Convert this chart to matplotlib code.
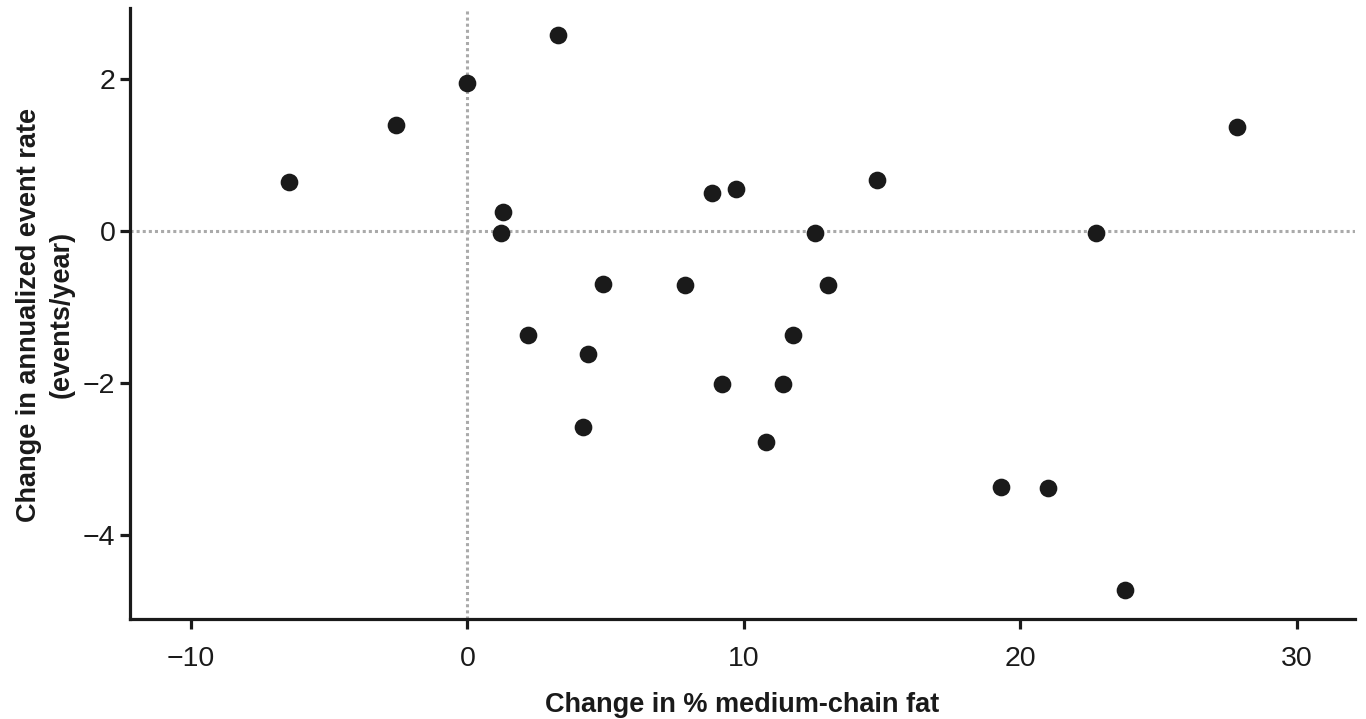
import matplotlib
matplotlib.use("Agg")
import matplotlib.pyplot as plt

# Data
change_mcf = [-6.45, -2.57, 0.0, 3.26, 1.30, 1.23, 2.21, 4.35, 4.20, 4.89,
              7.86, 8.84, 9.71, 9.20, 10.80, 11.41, 11.78, 12.57, 13.04, 14.82,
              19.31, 21.01, 22.75, 23.77, 27.83]
change_rate = [0.64, 1.39, 1.94, 2.57, 0.25, -0.03, -1.37, -1.62, -2.58, -0.70,
               -0.71, 0.50, 0.55, -2.01, -2.78, -2.01, -1.37, -0.03, -0.71, 0.67,
               -3.36, -3.38, -0.03, -4.72, 1.37]
x_ticks = [-10, 0, 10, 20, 30]
y_ticks = [-4, -2, 0, 2]
x_label = "Change in % medium-chain fat"
y_label = "Change in annualized event rate\n(events/year)"

plt.rcParams['font.family'] = ['Liberation Sans', 'DejaVu Sans']

fig = plt.figure(figsize=(13.66, 7.19), dpi=100)
ax = fig.add_axes([130/1366, 1-619/719, (1355-130)/1366, (619-8)/719])

ax.axhline(0, color='#aaaaaa', linestyle=(0, (1, 1)), linewidth=2.2, zorder=1)
ax.axvline(0, color='#aaaaaa', linestyle=(0, (1, 1)), linewidth=2.2, zorder=1)
ax.scatter(change_mcf, change_rate, s=162, color='#1a1a1a', zorder=3, linewidths=0)

ax.set_xlim(-12.2, 32.1)
ax.set_ylim(-5.1, 2.93)
ax.set_xticks(x_ticks)
ax.set_yticks(y_ticks)
ax.set_xticklabels([f"\u2212{abs(v)}" if v < 0 else str(v) for v in x_ticks])
ax.set_yticklabels([f"\u2212{abs(v)}" if v < 0 else str(v) for v in y_ticks])

for s in ['top', 'right']:
    ax.spines[s].set_visible(False)
for s in ['left', 'bottom']:
    ax.spines[s].set_linewidth(2.3)
    ax.spines[s].set_color('#1a1a1a')
ax.tick_params(axis='both', direction='out', length=7.5, width=2.3, colors='#1a1a1a',
               labelsize=20.5)
ax.tick_params(axis='x', pad=12)
ax.tick_params(axis='y', pad=3)

ax.set_xlabel(x_label, fontsize=19.5, fontweight='bold', labelpad=14, color='#1a1a1a')
ax.set_ylabel(y_label, fontsize=19.5, fontweight='bold', color='#1a1a1a',
              linespacing=1.35)
ax.yaxis.set_label_coords(-0.045, 0.498)

fig.savefig("out.png", dpi=100)
